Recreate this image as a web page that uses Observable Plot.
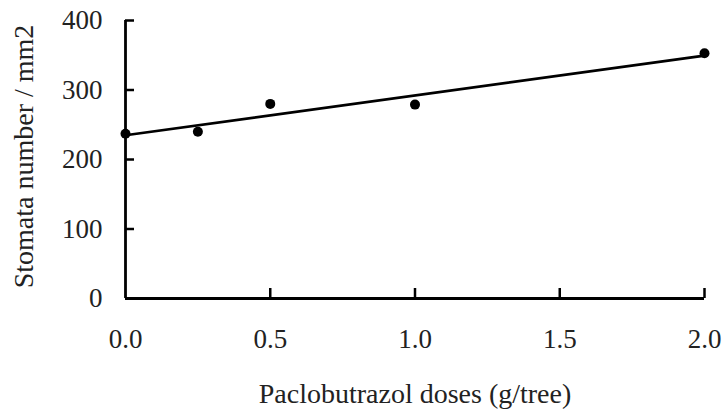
<!DOCTYPE html>
<html>
<head>
<meta charset="utf-8">
<script src="https://cdn.jsdelivr.net/npm/d3@7"></script>
<script src="https://cdn.jsdelivr.net/npm/@observablehq/plot@0.6"></script>
<style>
  html, body { margin: 0; padding: 0; background: #fff; }
  svg { display: block; }
</style>
</head>
<body>
<div id="chart"></div>
<script>
const doses = [0, 0.25, 0.5, 1.0, 2.0];
const stomata = [237, 240, 280, 279, 353];
const xTicks = [0, 0.5, 1.0, 1.5, 2.0];
const xTickLabels = ["0.0", "0.5", "1.0", "1.5", "2.0"];
const yTicks = [0, 100, 200, 300, 400];
const xTitle = "Paclobutrazol doses (g/tree)";
const yTitle = "Stomata number / mm2";

const data = doses.map((d, i) => ({dose: d, value: stomata[i]}));

const W = 727, H = 414;
const mL = 125, mR = 23, mT = 20, mB = 116;
const plotW = W - mL - mR, plotH = H - mT - mB;
const font = "Liberation Serif, Times New Roman, serif";

const chart = Plot.plot({
  width: W,
  height: H,
  marginLeft: mL,
  marginRight: mR,
  marginTop: mT,
  marginBottom: mB,
  style: {fontFamily: font, background: "#fff", color: "#000"},
  x: {domain: [0, 2], ticks: xTicks},
  y: {domain: [0, 400], ticks: yTicks},
  marks: [
    Plot.axisX(xTicks, {tickSize: 0, tickPadding: 30, fontSize: 27, tickFormat: (d, i) => xTickLabels[i], label: null, fill: "#222"}),
    Plot.axisY(yTicks, {tickSize: 0, tickPadding: 23, fontSize: 27, label: null, fill: "#222"}),
    Plot.tickX(xTicks.slice(1), {x: d => d, insetTop: plotH - 10, stroke: "#000", strokeWidth: 2.5}),
    Plot.tickY(yTicks.slice(1), {y: d => d, insetRight: plotW - 9, stroke: "#000", strokeWidth: 2.5}),
    Plot.ruleY([0], {x1: 0, x2: 2, stroke: "#000", strokeWidth: 2.8}),
    Plot.ruleX([0], {y1: 0, y2: 400, stroke: "#000", strokeWidth: 2.8}),
    Plot.linearRegressionY(data, {x: "dose", y: "value", ci: 0, stroke: "#000", strokeWidth: 2.6}),
    Plot.dot(data, {x: "dose", y: "value", r: 5, fill: "#000", stroke: "none"}),
    Plot.text([xTitle], {frameAnchor: "bottom", dy: 96, fontSize: 28, textAnchor: "middle", lineAnchor: "middle", fill: "#222"}),
    Plot.text([yTitle], {frameAnchor: "left", dx: -101, dy: -3, rotate: -90, fontSize: 28, textAnchor: "middle", lineAnchor: "middle", fill: "#222"})
  ]
});
document.getElementById("chart").appendChild(chart);
</script>
</body>
</html>
